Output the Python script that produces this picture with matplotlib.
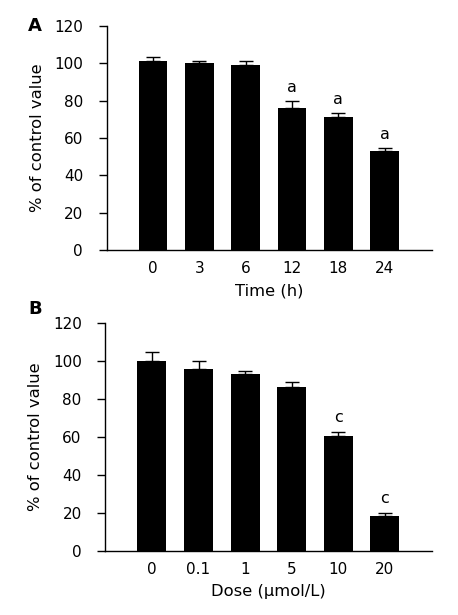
import matplotlib
matplotlib.use("Agg")
import matplotlib.pyplot as plt
import numpy as np

time_labels = ["0", "3", "6", "12", "18", "24"]
time_values = [101, 100, 99, 76, 71, 53]
time_errors = [2.6, 1.3, 2.5, 3.7, 2.2, 1.6]
time_marks = ["", "", "", "a", "a", "a"]

dose_labels = ["0", "0.1", "1", "5", "10", "20"]
dose_values = [100, 95.5, 93, 86, 60.5, 18.5]
dose_errors = [4.5, 4.5, 1.5, 3.0, 2.3, 1.5]
dose_marks = ["", "", "", "", "c", "c"]

plt.rcParams['font.family'] = ['DejaVu Sans']

fig = plt.figure(figsize=(4.58, 6.15), dpi=100)
axA = fig.add_axes([0.233, 0.5935, 0.710, 0.3642])
axB = fig.add_axes([0.230, 0.104, 0.714, 0.3713])

def draw(ax, labels, values, errors, marks, xlabel):
    x = np.arange(len(values))
    ax.bar(x, values, width=0.62, color="black", zorder=2)
    ax.errorbar(x, values, yerr=[np.zeros(len(errors)), errors], fmt="none",
                ecolor="black", elinewidth=1.0, capsize=5.3, capthick=1.0, zorder=3)
    for xi, v, e, m in zip(x, values, errors, marks):
        if m:
            ax.text(xi, v + e + 3.5, m, ha="center", va="bottom", fontsize=11.5)
    ax.set_xlim(-1, 6.02)
    ax.set_ylim(0, 120)
    ax.set_yticks(np.arange(0, 121, 20))
    ax.set_xticks(x)
    ax.set_xticklabels(labels)
    ax.spines["top"].set_visible(False)
    ax.spines["right"].set_visible(False)
    ax.spines["left"].set_linewidth(1.0)
    ax.spines["bottom"].set_linewidth(1.0)
    ax.tick_params(axis="y", direction="out", length=6, width=1.0, labelsize=11, pad=11)
    ax.tick_params(axis="x", length=0, labelsize=11, pad=8)
    ax.set_ylabel("% of control value", fontsize=11.8, labelpad=7)
    ax.set_xlabel(xlabel, fontsize=11.8, labelpad=5)

draw(axA, time_labels, time_values, time_errors, time_marks, "Time (h)")
draw(axB, dose_labels, dose_values, dose_errors, dose_marks, "Dose (\u03bcmol/L)")

fig.text(0.0764, 0.957, "A", fontsize=13, fontweight="bold", ha="center", va="center")
fig.text(0.0764, 0.498, "B", fontsize=13, fontweight="bold", ha="center", va="center")

fig.savefig("out.png", dpi=100)
